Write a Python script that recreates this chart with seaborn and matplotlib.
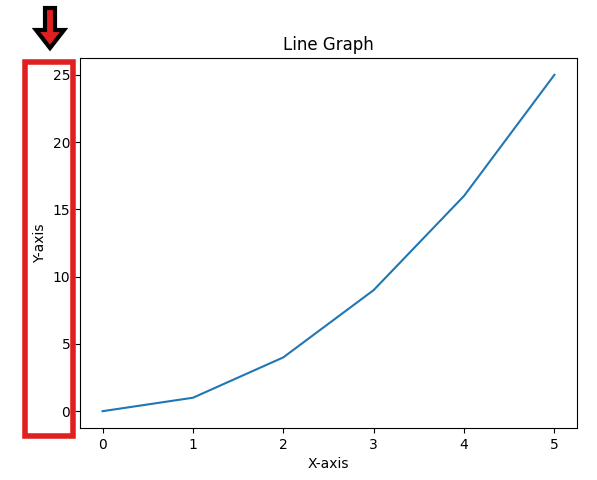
import matplotlib
matplotlib.use("Agg")
import matplotlib.pyplot as plt
import seaborn as sns
import pandas as pd
from matplotlib.patches import Rectangle, FancyArrow

x_vals = [0, 1, 2, 3, 4, 5]
y_vals = [0, 1, 4, 9, 16, 25]
df = pd.DataFrame({"x": x_vals, "y": y_vals})

W, H = 597, 480
fig = plt.figure(figsize=(W/100, H/100), dpi=100)
ax = fig.add_axes([80/W, 1-428/H, 497/W, 370/H])
sns.lineplot(data=df, x="x", y="y", ax=ax, color="#1f77b4")
ax.set_title("Line Graph")
ax.set_xlabel("X-axis")
ax.set_ylabel("Y-axis")

# red highlight rectangle (pixel coords -> figure fraction)
fig.patches.append(Rectangle((25/W, 1-436/H), 48/W, 374/H, transform=fig.transFigure,
                             fill=False, edgecolor="#e02020", linewidth=4))
# down arrow
fig.patches.append(FancyArrow(50/W, 1-8/H, 0, -40/H, width=10/W, head_width=28/W,
                              head_length=18/H, length_includes_head=True,
                              transform=fig.transFigure, facecolor="#e02020",
                              edgecolor="black", linewidth=3))
fig.savefig("out.png", dpi=100)
